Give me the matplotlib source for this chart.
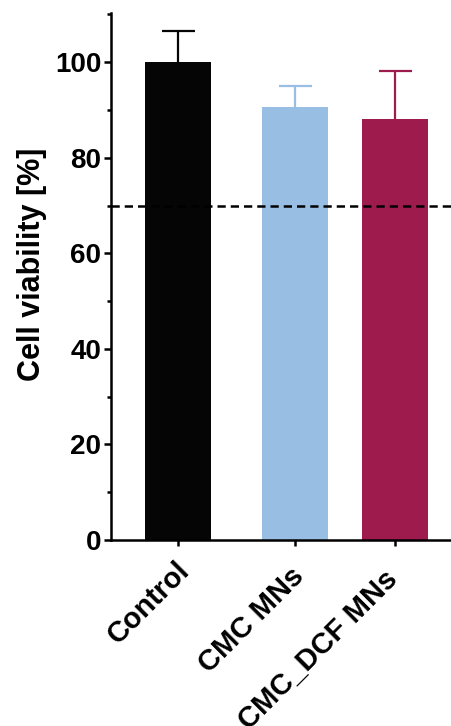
import matplotlib
matplotlib.use("Agg")
import matplotlib.pyplot as plt
import matplotlib.transforms as mtransforms
from matplotlib.ticker import MultipleLocator

categories = ["Control", "CMC MNs", "CMC_DCF MNs"]
values = [100.0, 90.7, 88.2]
errors = [6.5, 4.3, 10.0]
colors = ["#050505", "#98BEE4", "#9E1B4E"]
threshold = 70
yticks = [0, 20, 40, 60, 80, 100]

positions = [0.0, 1.17, 2.17]
bar_width = 0.66
label_shift_px = [(-3, 10), (-5, 16), (-12, 19)]

plt.rcParams['font.family'] = ['Liberation Sans', 'DejaVu Sans']
plt.rcParams['font.weight'] = 'bold'

fig = plt.figure(figsize=(4.52, 7.26), dpi=100)
ax = fig.add_axes([111/452, (726-540)/726, 1 - 111/452, (540-13)/726])

cap_px = 33 / 2
for x, v, e, c in zip(positions, values, errors, colors):
    ax.bar(x, v, width=bar_width, color=c, edgecolor='none', zorder=2)
    cont = ax.errorbar(x, v, yerr=[[0], [e]], fmt='none', ecolor=c, elinewidth=1.6,
                       capsize=cap_px * 72 / 100, capthick=1.6, zorder=3)
    for cl in cont.lines[1]:
        yd = cl.get_ydata()
        if len(yd) and abs(yd[0] - v) < 1e-9:
            cl.set_visible(False)

ax.axhline(threshold, color='black', lw=1.8, dashes=(3.3, 2.0), zorder=4)

ax.set_xlim(-0.67, 2.74)
ax.set_ylim(0, 110.3)
ax.set_yticks(yticks)
ax.yaxis.set_minor_locator(MultipleLocator(10))
ax.set_xticks(positions)
ax.set_xticklabels(categories, rotation=45, ha='right', va='top',
                   rotation_mode='anchor', fontsize=21, fontweight='bold')
ax.tick_params(axis='y', which='major', labelsize=20, length=5, width=1.8, pad=2)
ax.tick_params(axis='y', which='minor', length=3, width=1.8)
ax.tick_params(axis='x', which='major', length=4.3, width=1.8, pad=0)
for lab in ax.get_yticklabels():
    lab.set_fontweight('bold')
for lab, (dx, dy) in zip(ax.get_xticklabels(), label_shift_px):
    off = mtransforms.ScaledTranslation(dx / 100, -dy / 100, fig.dpi_scale_trans)
    lab.set_transform(lab.get_transform() + off)

ax.spines['top'].set_visible(False)
ax.spines['right'].set_visible(False)
ax.spines['left'].set_linewidth(1.8)
ax.spines['bottom'].set_linewidth(1.8)

ax.set_ylabel("Cell viability [%]", fontsize=22, fontweight='bold')
ax.yaxis.set_label_coords(-0.1877, 0.5237)

fig.savefig("out.png", dpi=100)
